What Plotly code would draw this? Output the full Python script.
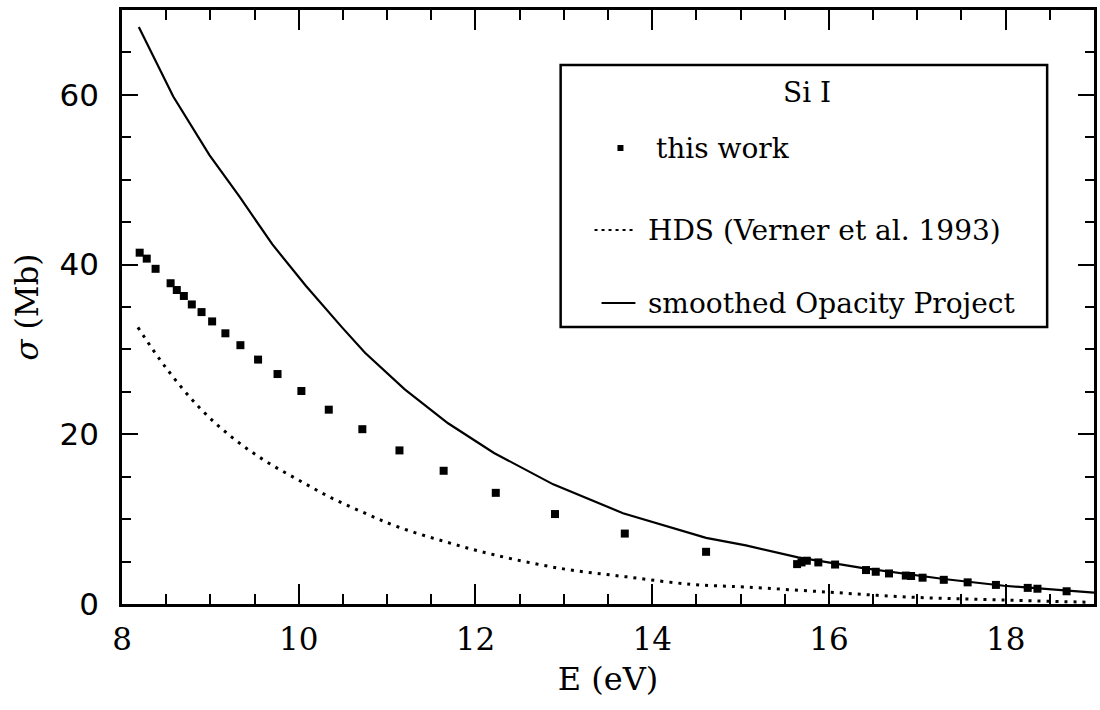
import plotly.graph_objects as go

# ---- data ----
work_E = [8.20, 8.28, 8.38, 8.55, 8.62, 8.70, 8.79, 8.90, 9.02, 9.17, 9.34, 9.54, 9.76,
          10.03, 10.34, 10.72, 11.14, 11.64, 12.23, 12.90, 13.69, 14.61, 15.64, 15.69,
          15.75, 15.88, 16.07, 16.42, 16.53, 16.68, 16.87, 16.93, 17.06, 17.30, 17.57,
          17.89, 18.25, 18.36, 18.69]
work_sigma = [41.4, 40.7, 39.5, 37.8, 37.0, 36.3, 35.3, 34.4, 33.3, 31.9, 30.5, 28.8, 27.1,
              25.1, 22.9, 20.6, 18.1, 15.7, 13.1, 10.6, 8.3, 6.15, 4.7, 4.9,
              5.1, 4.9, 4.65, 4.0, 3.8, 3.6, 3.35, 3.3, 3.1, 2.85, 2.55,
              2.25, 1.9, 1.8, 1.5]

hds_E = [8.18, 8.50, 8.88, 9.25, 9.63, 10.00, 10.37, 10.75, 11.12, 11.67, 12.21, 12.96,
         13.71, 14.46, 15.06, 15.99, 16.93, 17.87, 18.96]
hds_sigma = [32.6, 27.8, 23.1, 19.6, 16.8, 14.6, 12.5, 10.7, 9.1, 7.3, 5.8, 4.2,
             3.2, 2.3, 2.0, 1.4, 0.8, 0.5, 0.2]

op_E = [8.19, 8.58, 8.99, 9.33, 9.70, 10.08, 10.49, 10.75, 11.20, 11.69, 12.21, 12.88,
        13.67, 14.61, 15.06, 15.65, 16.37, 17.30, 17.98, 18.95, 19.0]
op_sigma = [68.0, 59.8, 52.9, 48.0, 42.4, 37.5, 32.6, 29.6, 25.3, 21.3, 17.8, 14.1,
            10.7, 7.8, 6.9, 5.5, 4.25, 2.95, 2.15, 1.4, 1.35]

legend_title = "Si I"
name_work = "this work"
name_hds = "HDS (Verner et al. 1993)"
name_op = "smoothed Opacity Project"

SERIF = "DejaVu Serif"
SANS = "DejaVu Sans"

fig = go.Figure()
fig.add_trace(go.Scatter(x=op_E, y=op_sigma, mode="lines", name=name_op,
                         line=dict(color="black", width=2.2), showlegend=False))
fig.add_trace(go.Scatter(x=hds_E, y=hds_sigma, mode="lines", name=name_hds,
                         line=dict(color="black", width=3, dash="3px,6px", shape="spline"),
                         showlegend=False))
fig.add_trace(go.Scatter(x=work_E, y=work_sigma, mode="markers", name=name_work,
                         marker=dict(symbol="square", size=8, color="black"),
                         showlegend=False))

# ---- hand-drawn legend box (paper coordinates) ----
L, R, T, B = 122, 3, 10, 106
W, H = 1100 - L - R, 710 - T - B
def px(x): return (x - L) / W
def py(y): return (710 - B - y) / H

shapes = [
    dict(type="rect", xref="paper", yref="paper", x0=px(562), x1=px(1050), y0=py(327), y1=py(65),
         line=dict(color="black", width=2.5), fillcolor="white", layer="above"),
    dict(type="rect", xref="paper", yref="paper", xsizemode="pixel", ysizemode="pixel",
         xanchor=px(622), yanchor=py(148), x0=-3, x1=3, y0=-3, y1=3,
         line=dict(color="black", width=0), fillcolor="black", layer="above"),
    dict(type="line", xref="paper", yref="paper", x0=px(596), x1=px(637), y0=py(230), y1=py(230),
         line=dict(color="black", width=2, dash="3px,4px"), layer="above"),
    dict(type="line", xref="paper", yref="paper", x0=px(603), x1=px(637), y0=py(303), y1=py(303),
         line=dict(color="black", width=2.2), layer="above"),
]
ann_font = dict(family=SERIF, size=28, color="black")
annotations = [
    dict(text=legend_title, x=px(809), y=py(92), xref="paper", yref="paper", showarrow=False,
         xanchor="center", yanchor="middle", font=ann_font),
    dict(text=name_work, x=px(656), y=py(148), xref="paper", yref="paper", showarrow=False,
         xanchor="left", yanchor="middle", font=ann_font),
    dict(text=name_hds, x=px(648), y=py(230), xref="paper", yref="paper", showarrow=False,
         xanchor="left", yanchor="middle", font=ann_font),
    dict(text=name_op, x=px(648), y=py(303), xref="paper", yref="paper", showarrow=False,
         xanchor="left", yanchor="middle", font=ann_font),
]

axis_common = dict(showline=True, linewidth=2.8, linecolor="black", mirror="allticks",
                   ticks="inside", tickcolor="black", tickwidth=2, showgrid=False,
                   zeroline=False)

fig.update_layout(
    width=1100, height=710,
    margin=dict(l=L, r=R, t=T, b=B),
    paper_bgcolor="white", plot_bgcolor="white",
    showlegend=False,
    shapes=shapes, annotations=annotations,
    xaxis=dict(range=[8, 19], tick0=8, dtick=2, ticklen=20,
               minor=dict(dtick=0.5, ticks="inside", ticklen=10, tickwidth=2, tickcolor="black"),
               tickfont=dict(family=SERIF, size=31, color="black"), ticklabelstandoff=6,
               title=dict(text="E (eV)", font=dict(family=SERIF, size=32, color="black"),
                          standoff=12),
               **axis_common),
    yaxis=dict(range=[0, 70], tick0=0, dtick=20, ticklen=16,
               minor=dict(dtick=5, ticks="inside", ticklen=9, tickwidth=2, tickcolor="black"),
               tickfont=dict(family=SANS, size=31, color="black"), ticklabelstandoff=14,
               title=dict(text="<i>σ</i> (Mb)", font=dict(family=SERIF, size=31, color="black"),
                          standoff=12),
               **axis_common),
)

fig.write_html("out.html")
